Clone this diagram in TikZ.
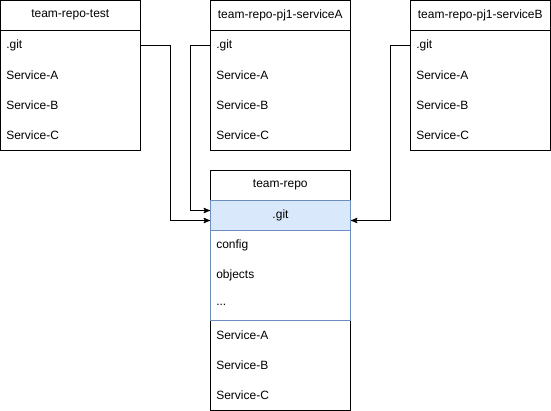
\documentclass[tikz,border=0pt]{standalone}
\usepackage{fontspec}
\setmainfont{Liberation Sans}
\usetikzlibrary{arrows}
\usepackage{xcolor}
\definecolor{gitfill}{HTML}{DAE8FC}
\definecolor{gitline}{HTML}{6C8EBF}

\begin{document}
\begin{tikzpicture}[x=0.75pt, y=-0.75pt,
  box/.style={draw=black, line width=0.75pt},
  item/.style={anchor=west, minimum height=22.5pt, inner ysep=0pt, inner xsep=4.5pt,
    text width=96pt, align=left, font=\fontsize{9pt}{11pt}\selectfont},
  hdr/.style={item, align=center},
  gitrow/.style={hdr, fill=gitfill, draw=gitline, line width=0.75pt, inner xsep=0pt, text width=105pt},
  conn/.style={black, line width=0.75pt, ->, >=stealth'}]
\useasboundingbox (0,0) rectangle (551,411);
% three repos on top
\foreach \b/\x/\title in {t/0/team-repo-test, a/210/team-repo-pj1-serviceA, b/410/team-repo-pj1-serviceB} {
 \draw[box] (\x,0) rectangle ++(140,150);
 \draw[box] (\x,30) --++(140,0);
 \node[hdr] (\b head) at (\x,15) {\title};
 \foreach \r/\txt [count=\i] in {git/.git, sa/Service-A, sb/Service-B, sc/Service-C}
  \node[item] (\b\r) at (\x,{15+30*\i}) {\txt};
}
% team-repo
\draw[box] (210,170) rectangle (350,410);
\node[hdr] (rhead) at (210,185) {team-repo};
\node[gitrow, anchor=north west] (rgit) at (210,200) {.git};
\draw[gitline, line width=0.75pt] (210,200) rectangle (350,320);
\foreach \r/\txt [count=\i] in {cfg/config, obj/objects, dots/{...}, sa/Service-A, sb/Service-B, sc/Service-C}
 \node[item] (r\r) at (210,{215+30*\i}) {\txt};
\draw[conn] (tgit.east) --++(30,0) |- ([yshift=-3.75pt]rgit.west);
\draw[conn] (agit.west) --++(-20,0) |- ([yshift=3.75pt]rgit.west);
\draw[conn] (bgit.west) --++(-20,0) |- ([yshift=-3.75pt]rgit.east);
\end{tikzpicture}
\end{document}
